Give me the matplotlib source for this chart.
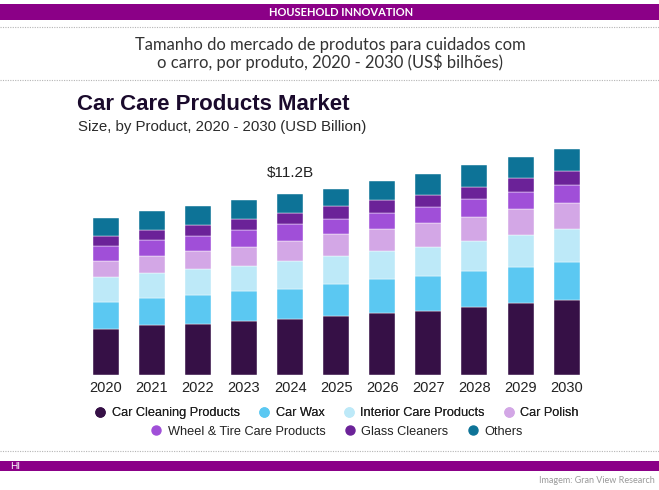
import matplotlib
matplotlib.use("Agg")
import matplotlib.pyplot as plt
from matplotlib.lines import Line2D
from matplotlib.patches import Rectangle
import numpy as np

years = ["2020", "2021", "2022", "2023", "2024", "2025", "2026", "2027", "2028", "2029", "2030"]
segments = ["Car Cleaning Products", "Car Wax", "Interior Care Products", "Car Polish",
            "Wheel & Tire Care Products", "Glass Cleaners", "Others"]
car_cleaning = [2.85, 3.07, 3.18, 3.34, 3.47, 3.67, 3.82, 3.94, 4.23, 4.44, 4.62]
car_wax      = [1.69, 1.69, 1.79, 1.84, 1.88, 1.94, 2.12, 2.19, 2.21, 2.27, 2.37]
interior     = [1.51, 1.53, 1.59, 1.57, 1.69, 1.75, 1.71, 1.77, 1.88, 1.94, 2.06]
car_polish   = [1.01, 1.07, 1.11, 1.16, 1.28, 1.34, 1.40, 1.49, 1.44, 1.61, 1.59]
wheel_tire   = [0.93, 0.99, 0.95, 1.07, 1.03, 0.97, 0.97, 0.99, 1.11, 1.07, 1.11]
glass        = [0.62, 0.62, 0.66, 0.66, 0.68, 0.76, 0.80, 0.76, 0.78, 0.83, 0.85]
others       = [1.09, 1.18, 1.18, 1.20, 1.18, 1.11, 1.20, 1.32, 1.32, 1.36, 1.38]
highlight_year = "2024"
highlight_label = "$11.2B"

colors = ["#361046", "#5bc8f2", "#bde9f8", "#d3a7e6", "#a04fd8", "#6b2298", "#0d7397"]
series = [car_cleaning, car_wax, interior, car_polish, wheel_tire, glass, others]

W, H = 659, 490
fig = plt.figure(figsize=(W / 100, H / 100), dpi=100)
fig.patch.set_facecolor("white")

def fx(x):
    return x / W

def fy(y):
    return 1 - y / H

PURPLE = "#8b0087"
# top band
fig.add_artist(Rectangle((0, fy(20.5)), 1, (20.5 - 4.5) / H, transform=fig.transFigure,
                         facecolor=PURPLE, edgecolor="none"))
fig.text(fx(341), fy(12.5), "HOUSEHOLD INNOVATION", color="white", fontsize=8,
         family="Lato", fontweight="bold", ha="center", va="center")
# dotted separators
for yy in (27.5, 80.5, 451):
    fig.add_artist(Line2D([0, 1], [fy(yy), fy(yy)], transform=fig.transFigure,
                          color="#b5b5b5", linewidth=0.8, linestyle=(0, (1, 1.2))))
# Portuguese subtitle
fig.text(fx(330), fy(45), "Tamanho do mercado de produtos para cuidados com",
         fontsize=11.9, family="Lato", color="#333333", ha="center", va="center")
fig.text(fx(330), fy(62.5), "o carro, por produto, 2020 - 2030 (US$ bilhões)",
         fontsize=11.9, family="Lato", color="#333333", ha="center", va="center")
# chart titles
fig.text(fx(77), fy(109.5), "Car Care Products Market", fontsize=16,
         family="Liberation Sans", fontweight="bold", color="#1a0a2c", ha="left", va="baseline")
fig.text(fx(78), fy(130.5), "Size, by Product, 2020 - 2030 (USD Billion)", fontsize=10.8,
         family="Liberation Sans", color="#2a2a2a", ha="left", va="baseline")

# axes
base_px, top_px = 375, 140
px_per_unit = 181 / 11.2
L, R = 82.65, 589.7
ax = fig.add_axes([fx(L), fy(base_px), (R - L) / W, (base_px - top_px) / H])
x = np.arange(len(years))
bottom = np.zeros(len(years))
for name, vals, c in zip(segments, series, colors):
    ax.bar(x, vals, width=0.565, bottom=bottom, color=c, label=name,
           edgecolor="white", linewidth=0.3)
    bottom += np.array(vals)
ax.set_xlim(-0.5, len(years) - 0.5)
ax.set_ylim(0, (base_px - top_px) / px_per_unit)
ax.set_xticks(x)
ax.set_xticklabels(years, fontsize=10.5, family="Liberation Sans", color="#222222")
ax.tick_params(axis="x", length=0, pad=4)
ax.set_yticks([])
for s in ax.spines.values():
    s.set_visible(False)
hi = years.index(highlight_year)
ax.annotate(highlight_label, (hi, bottom[hi]), xytext=(0, 10), textcoords="offset points",
            ha="center", va="bottom", fontsize=11, family="Liberation Sans", color="#222222")

# legend (two centered rows)
handles = [Line2D([], [], marker="o", linestyle="", markersize=6.5, color=c,
                  markeredgecolor=c) for c in colors]
legprops = {"family": "Liberation Sans", "size": 9.2}
leg1 = fig.legend(handles[:4], segments[:4], loc="center", bbox_to_anchor=(fx(337), fy(413)),
                  ncol=4, frameon=False, handlelength=0.8, handletextpad=0.5,
                  columnspacing=1.5, prop=legprops, borderpad=0, borderaxespad=0)
for t in leg1.get_texts():
    t.set_color("#222222")
leg2 = fig.legend(handles[4:], segments[4:], loc="center", bbox_to_anchor=(fx(337), fy(431.5)),
                  ncol=3, frameon=False, handlelength=0.8, handletextpad=0.5,
                  columnspacing=1.5, prop=legprops, borderpad=0, borderaxespad=0)
for t in leg2.get_texts():
    t.set_color("#222222")
fig.add_artist(leg1)

# bottom band
fig.add_artist(Rectangle((0, fy(471)), 1, (471 - 461) / H, transform=fig.transFigure,
                         facecolor=PURPLE, edgecolor="none"))
fig.text(fx(10), fy(466), "HI", color="white", fontsize=7, family="Lato",
         ha="left", va="center")
fig.text(fx(655), fy(480.5), "Imagem: Gran View Research", color="#9a9a9a", fontsize=6.5,
         family="Lato", ha="right", va="center")

fig.savefig("out.png", dpi=100, facecolor="white")
